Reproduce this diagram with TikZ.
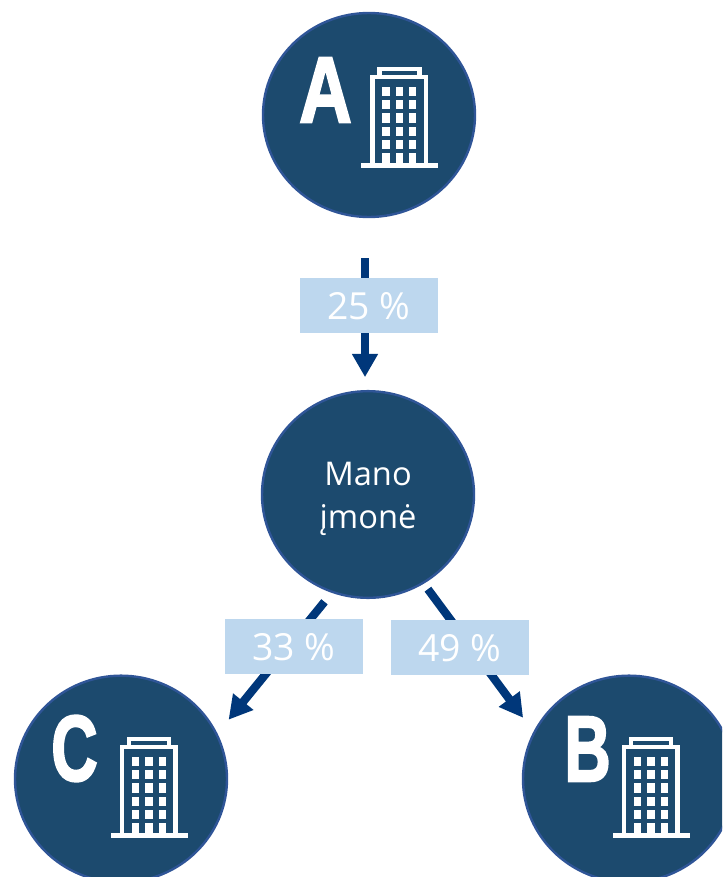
\documentclass[tikz,border=0pt]{standalone}
\usepackage{fontspec}
\setmainfont{Open Sans}
\newfontfamily\letterfont{Liberation Sans Bold}[FakeBold=2.5]
\usetikzlibrary{arrows.meta,shapes.geometric}
\definecolor{firmfill}{HTML}{1C4A6E}
\definecolor{firmline}{HTML}{2F5597}
\definecolor{flowblue}{HTML}{00377A}
\definecolor{sharefill}{HTML}{BDD7EE}
\newcommand{\firmletter}[2][0.69]{\scalebox{#1}[1]{\letterfont\fontsize{70}{70}\selectfont #2}}
\tikzset{
  every picture/.style={line width=0.75pt},
  firm/.style={ellipse,draw=firmline,fill=firmfill,line width=1.8pt,minimum width=159pt,minimum height=153pt,inner sep=0pt,outer sep=0pt},
  flow/.style={draw=flowblue,line width=6.2pt,-{Triangle[length=17.5pt,width=18.5pt]}},
  share/.style={fill=sharefill,text=white,minimum width=103.5pt,minimum height=41.25pt,inner sep=0pt,text depth=0pt,text height=21pt,font=\fontsize{28}{28}\selectfont},
  firmname/.style={text=white,inner sep=0pt},
  pics/office/.style={code={
    \fill[white] (0,-4.6) rectangle (77,0);
    \draw[white,line width=3.2pt] (11.5,0) -- (11.5,-91) -- (65,-91) -- (65,0);
    \draw[white,line width=3.2pt] (18.5,-91) -- (18.5,-99) -- (58.5,-99) -- (58.5,-91);
    \foreach \col in {21.3,34.7,48} {
      \foreach \row in {-81.3,-68,-54.7,-41.3,-28,-14.7} {
        \fill[white] (\col,\row) rectangle ++(7.3,9.4);
      }
    }
    \fill[white] (34.7,-14.7) rectangle (42,0);
  }}
}
\begin{document}
\begin{tikzpicture}[x=0.75pt,y=0.75pt,yscale=-1]
  \clip (0,0) rectangle (722,877);

  %Firms
  \node[firm] (firma) at (369,115) {};
  \node[firm,minimum height=155pt] (mano) at (368,494.5) {};
  \node[firm,minimum height=155pt] (firmc) at (121,779) {};
  \node[firm,minimum height=155pt] (firmb) at (629,779) {};

  %Letters
  \node[firmname] (lettera) at (325.5,90) {\firmletter[0.78]{A}};
  \node[firmname] (letterc) at (74.5,748.5) {\firmletter{C}};
  \node[firmname] (letterb) at (587.5,749) {\firmletter{B}};

  %Buildings
  \pic[transform shape] at (361,168) {office};
  \pic[transform shape] at (110.5,838) {office};
  \pic[transform shape] at (612.5,838) {office};

  %Own company
  \node[firmname,align=center,font=\fontsize{24.5}{32}\selectfont] (manotext) at (368,499) {Mano\\įmonė};

  %Arrows
  \draw[flow,shorten <=30.75pt,shorten >=10.5pt] ([xshift=-3pt]firma.south) -- ([xshift=-2.25pt]mano.north);
  \draw[flow,shorten <=9.6pt,shorten >=14.2pt] (mano.250) -- (firmc.25.7);
  \draw[flow,shorten <=6pt,shorten >=14pt] (mano.302.5) -- (firmb.154.4);

  %Shares
  \node[share] (sharea) at (369,305.5) {25 \%};
  \node[share] (sharec) at (294,646.5) {33 \%};
  \node[share] (shareb) at (460,647.5) {49 \%};
\end{tikzpicture}
\end{document}
